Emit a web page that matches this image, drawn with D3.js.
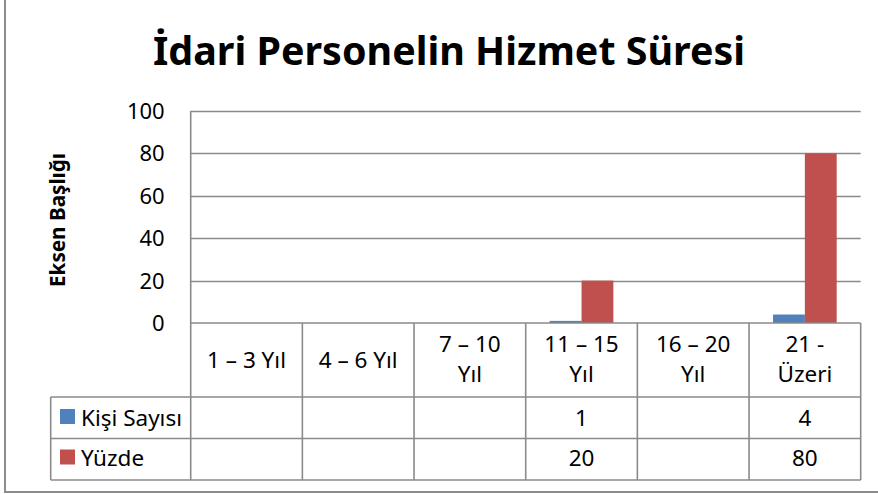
<!DOCTYPE html>
<html><head><meta charset="utf-8">
<script src="https://cdn.jsdelivr.net/npm/d3@7"></script>
<style>html,body{margin:0;padding:0;background:#fff;}svg{display:block;}</style>
</head><body>
<svg id="c" width="878" height="494"></svg>
<script>
const categories = ["1 – 3 Yıl", "4 – 6 Yıl", "7 – 10 Yıl", "11 – 15 Yıl", "16 – 20 Yıl", "21 - Üzeri"];
const categoryLines = [["1 – 3 Yıl"], ["4 – 6 Yıl"], ["7 – 10", "Yıl"], ["11 – 15", "Yıl"], ["16 – 20", "Yıl"], ["21 -", "Üzeri"]];
const seriesNames = ["Kişi Sayısı", "Yüzde"];
const kisiSayisi = [null, null, null, 1, null, 4];
const yuzde = [null, null, null, 20, null, 80];
const yTicks = [0, 20, 40, 60, 80, 100];
const colors = ["#4F81BD", "#C0504D"];
const title = "İdari Personelin Hizmet Süresi";
const yTitle = "Eksen Başlığı";

const FONT = "'Noto Sans', 'Open Sans', sans-serif";
const grid = "#8a8a8a";
const svg = d3.select("#c");

// outer frame
svg.append("rect").attr("x", 5).attr("y", -10).attr("width", 900).attr("height", 502)
  .attr("fill", "#fff").attr("stroke", "#8c8c8c").attr("stroke-width", 2);

const plot = {left: 190.7, right: 860.7, top: 111, bottom: 323};
const x = d3.scaleBand().domain(categories).range([plot.left, plot.right]).padding(0);
const bw = x.bandwidth();
const x1 = d3.scaleBand().domain(seriesNames).range([bw * 0.215, bw * 0.785]).padding(0);
const y = d3.scaleLinear().domain([0, 100]).range([plot.bottom, plot.top]);

// title
svg.append("text").attr("x", 449).attr("y", 65).attr("text-anchor", "middle")
  .attr("font-family", FONT).attr("font-weight", "bold").attr("font-size", 40)
  .attr("textLength", 592).attr("lengthAdjust", "spacingAndGlyphs")
  .attr("fill", "#000").text(title);

// gridlines
svg.append("g").selectAll("line").data(yTicks.filter(d => d > 0)).join("line")
  .attr("x1", plot.left).attr("x2", plot.right)
  .attr("y1", d => Math.round(y(d)) + 0.5).attr("y2", d => Math.round(y(d)) + 0.5)
  .attr("stroke", grid).attr("stroke-width", 1.3);

// y axis
const yAxis = d3.axisLeft(y).tickValues(yTicks).tickSize(0).tickPadding(26);
const gy = svg.append("g").attr("transform", `translate(${plot.left},0)`).call(yAxis);
gy.select(".domain").remove();
gy.selectAll("text").attr("font-family", FONT).attr("font-size", 22).attr("fill", "#000")
  .attr("dy", "0.34em");

// y title
svg.append("text").attr("transform", `translate(65,220) rotate(-90)`).attr("text-anchor", "middle")
  .attr("font-family", FONT).attr("font-weight", "bold").attr("font-size", 21)
  .attr("textLength", 134).attr("lengthAdjust", "spacingAndGlyphs")
  .attr("fill", "#000").text(yTitle);

// bars
const seriesData = [kisiSayisi, yuzde];
seriesData.forEach((vals, si) => {
  svg.append("g").selectAll("rect").data(vals.map((v, i) => ({v, c: categories[i]})).filter(d => d.v != null))
    .join("rect")
    .attr("x", d => x(d.c) + x1(seriesNames[si]))
    .attr("width", x1.bandwidth())
    .attr("y", d => y(d.v))
    .attr("height", d => y(0) - y(d.v))
    .attr("fill", colors[si]);
});

// data table
const rows = {header: [323, 397], r1: [397, 438.5], r2: [438.5, 480]};
const legendLeft = 50.7;
const tg = svg.append("g").attr("stroke", grid).attr("stroke-width", 1.6).attr("fill", "none");
tg.append("line").attr("x1", plot.left).attr("x2", plot.right).attr("y1", rows.header[0]).attr("y2", rows.header[0]);
[rows.r1[0], rows.r2[0], rows.r2[1]].forEach(yy =>
  tg.append("line").attr("x1", legendLeft).attr("x2", plot.right).attr("y1", yy).attr("y2", yy));
tg.append("line").attr("x1", legendLeft).attr("x2", legendLeft).attr("y1", rows.r1[0]).attr("y2", rows.r2[1]);
const vx = categories.map(c => x(c)).concat([plot.right]);
vx.forEach((xx, i) => {
  tg.append("line").attr("x1", xx).attr("x2", xx)
    .attr("y1", i === 0 ? plot.top : rows.header[0]).attr("y2", rows.r2[1]);
});

// header text
const tfs = 22.5;
categories.forEach((c, i) => {
  const cx = x(c) + bw / 2;
  const lines = categoryLines[i];
  const t = svg.append("text").attr("text-anchor", "middle").attr("font-family", FONT)
    .attr("font-size", tfs).attr("fill", "#000");
  if (lines.length === 1) {
    t.append("tspan").attr("x", cx).attr("y", 368).text(lines[0]);
  } else {
    t.append("tspan").attr("x", cx).attr("y", 352).text(lines[0]);
    t.append("tspan").attr("x", cx).attr("y", 382).text(lines[1]);
  }
});

// value rows
const rowBase = [425.5, 466];
seriesData.forEach((vals, si) => {
  svg.append("g").selectAll("text").data(vals.map((v, i) => ({v, c: categories[i]})))
    .join("text").attr("text-anchor", "middle").attr("font-family", FONT)
    .attr("font-size", tfs).attr("fill", "#000")
    .attr("x", d => x(d.c) + bw / 2).attr("y", rowBase[si])
    .text(d => d.v == null ? "" : d.v);
  svg.append("rect").attr("x", 60).attr("y", rowBase[si] - 16.5).attr("width", 15).attr("height", 15)
    .attr("fill", colors[si]);
  svg.append("text").attr("x", 81).attr("y", rowBase[si]).attr("font-family", FONT)
    .attr("font-size", tfs).attr("fill", "#000").text(seriesNames[si]);
});
</script>
</body></html>
